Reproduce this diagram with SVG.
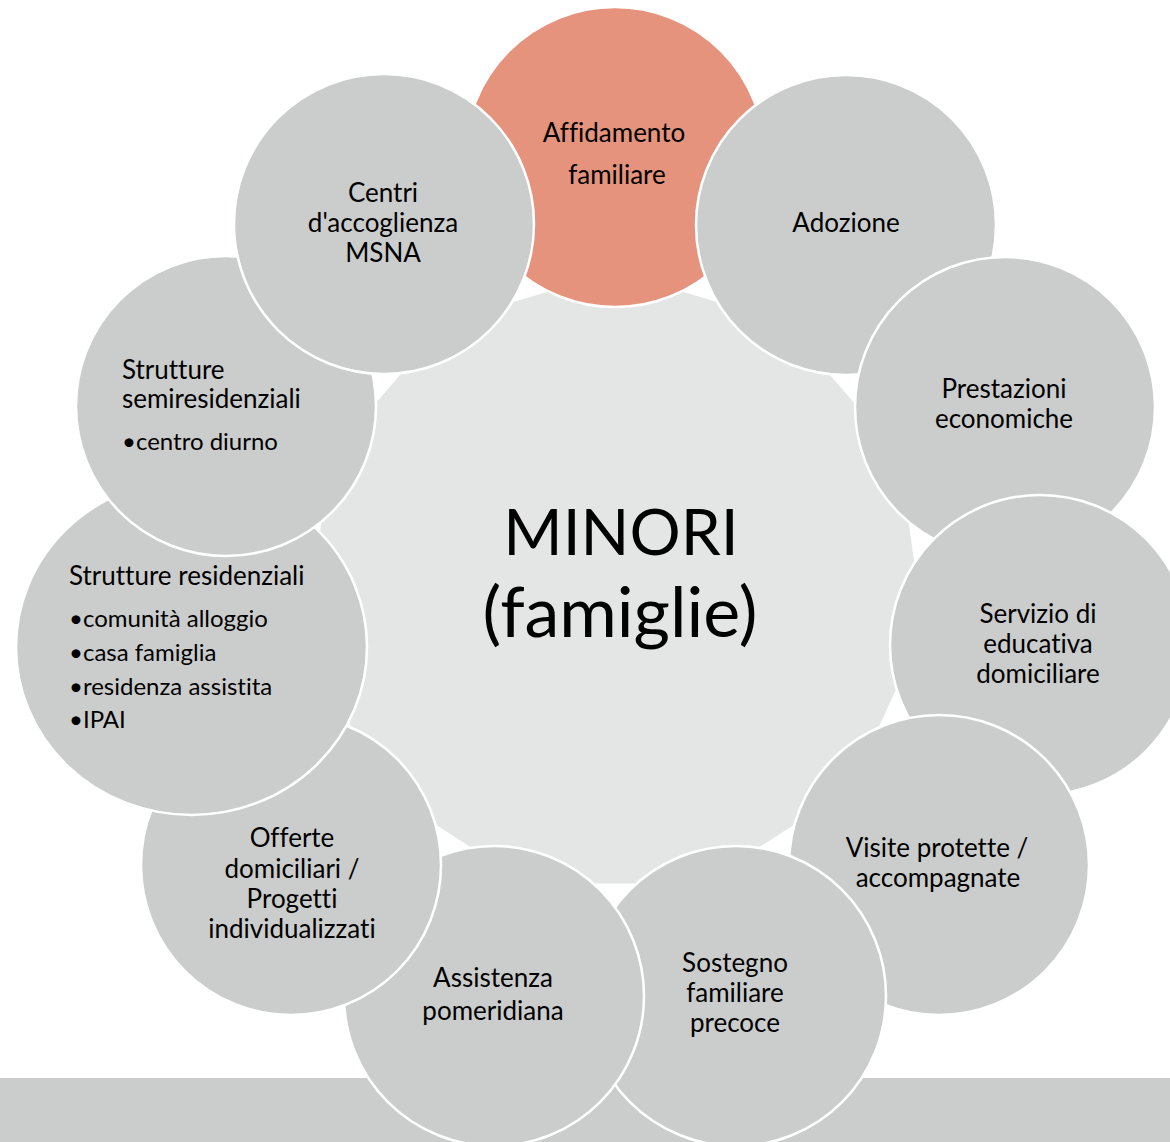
<svg xmlns="http://www.w3.org/2000/svg" width="1170" height="1142" viewBox="0 0 1170 1142">
<style>
.c{fill:#cbcdcc;stroke:#ffffff;stroke-width:2.5}
.hl{fill:#e5937c;stroke:#ffffff;stroke-width:2.5}
text{font-family:Lato,"Liberation Sans",sans-serif;fill:#000000;font-variant-ligatures:none}
.t{font-size:26px;text-anchor:middle}
.l{font-size:26px}
.b{font-size:24px}
.big1{font-size:64px;text-anchor:middle}
.big2{font-size:70px;text-anchor:middle}
</style>
<rect x="0" y="0" width="1170" height="1142" fill="#ffffff"/>
<rect x="0" y="1078" width="1170" height="64" fill="#cbcdcc"/>
<g id="center">
<polygon points="615,272 783.7,321.5 898.8,454.4 923.8,628.4 850.8,788.3 702.9,883.4 527.1,883.4 379.2,788.3 306.2,628.4 331.2,454.4 446.3,321.5" fill="#e4e6e5"/>
<text class="big1" x="621" y="555">MINORI</text>
<text class="big2" x="620" y="637">(famiglie)</text>
</g>
<g id="connectors"></g>
<g id="affidamento">
<circle class="hl" cx="615" cy="157" r="150"/>
<text class="t" x="614" y="142">Affidamento</text>
<text class="t" x="617" y="184">familiare</text>
</g>
<g id="adozione">
<circle class="c" cx="846" cy="225" r="150"/>
<text class="t" x="846" y="232">Adozione</text>
</g>
<g id="prestazioni">
<circle class="c" cx="1005" cy="407" r="150"/>
<text class="t" x="1004" y="398">Prestazioni</text>
<text class="t" x="1004" y="428">economiche</text>
</g>
<g id="servizio">
<circle class="c" cx="1040" cy="645" r="150"/>
<text class="t" x="1038" y="623">Servizio di</text>
<text class="t" x="1038" y="653">educativa</text>
<text class="t" x="1038" y="683">domiciliare</text>
</g>
<g id="visite">
<circle class="c" cx="939" cy="865" r="150"/>
<text class="t" x="937" y="857">Visite protette /</text>
<text class="t" x="938" y="887">accompagnate</text>
</g>
<g id="sostegno">
<circle class="c" cx="736" cy="996" r="150"/>
<text class="t" x="735" y="972">Sostegno</text>
<text class="t" x="735" y="1002">familiare</text>
<text class="t" x="735" y="1032">precoce</text>
</g>
<g id="assistenza">
<circle class="c" cx="494" cy="996" r="150"/>
<text class="t" x="493" y="987">Assistenza</text>
<text class="t" x="493" y="1020">pomeridiana</text>
</g>
<g id="offerte">
<circle class="c" cx="291" cy="865" r="150"/>
<text class="t" x="292" y="847">Offerte</text>
<text class="t" x="292" y="878">domiciliari /</text>
<text class="t" x="292" y="908">Progetti</text>
<text class="t" x="292" y="938">individualizzati</text>
</g>
<g id="strutture-residenziali">
<ellipse class="c" cx="191.5" cy="647" rx="175.5" ry="168"/>
<text class="l" x="69" y="585">Strutture residenziali</text>
<text class="b" x="69" y="627">•comunità alloggio</text>
<text class="b" x="69" y="661">•casa famiglia</text>
<text class="b" x="69" y="695">•residenza assistita</text>
<text class="b" x="69" y="728">•IPAI</text>
</g>
<g id="strutture-semiresidenziali">
<circle class="c" cx="226" cy="406" r="150"/>
<text class="l" x="122" y="379">Strutture</text>
<text class="l" x="122" y="408">semiresidenziali</text>
<text class="b" x="122" y="450">•centro diurno</text>
</g>
<g id="centri">
<circle class="c" cx="384" cy="224" r="150"/>
<text class="t" x="383" y="202">Centri</text>
<text class="t" x="383" y="232">d'accoglienza</text>
<text class="t" x="383" y="262">MSNA</text>
</g>
</svg>
